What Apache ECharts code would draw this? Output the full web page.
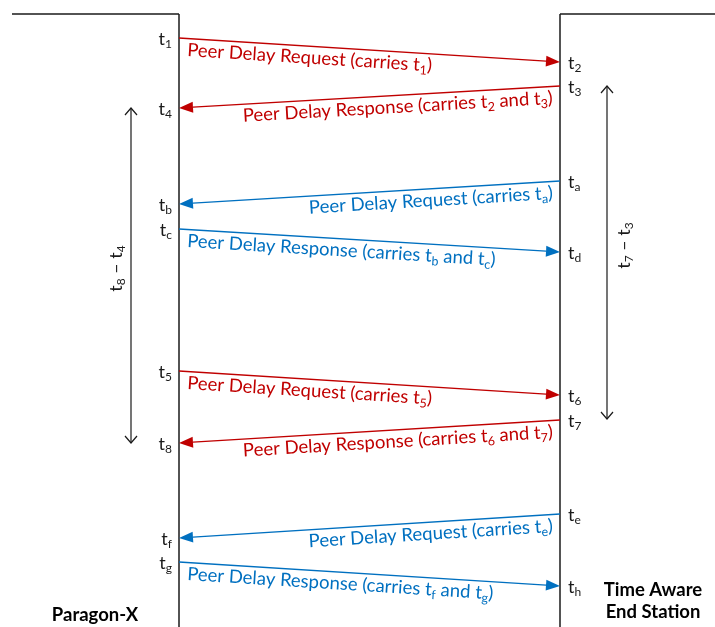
<!DOCTYPE html>
<html><head><meta charset="utf-8">
<script src="https://cdn.jsdelivr.net/npm/echarts@6/dist/echarts.min.js"></script>
<style>html,body{margin:0;padding:0;background:#fff}#c{width:715px;height:627px}</style>
</head><body><div id="c"></div>
<script>
// ---------------- data ----------------
const stations = ['Paragon-X', 'Time Aware\nEnd Station'];
const stationPos = [0, 1];
const lifelineStart = 14;
const timeMax = 627;

const msgFrom = [0, 1, 1, 0, 0, 1, 1, 0];
const msgTo   = [1, 0, 0, 1, 1, 0, 0, 1];
const msgSendTime = [38, 86, 181, 229, 371, 420, 514, 562];
const msgRecvTime = [62, 108, 204, 252, 395, 443, 538, 586];
const msgSendStamp = ['1', '3', 'a', 'c', '5', '7', 'e', 'g'];
const msgRecvStamp = ['2', '4', 'b', 'd', '6', '8', 'f', 'h'];
const msgText = [
  'Peer Delay Request (carries t_1)',
  'Peer Delay Response (carries t_2 and t_3)',
  'Peer Delay Request (carries t_a)',
  'Peer Delay Response (carries t_b and t_c)',
  'Peer Delay Request (carries t_5)',
  'Peer Delay Response (carries t_6 and t_7)',
  'Peer Delay Request (carries t_e)',
  'Peer Delay Response (carries t_f and t_g)'
];
const msgExchange = ['initiator', 'initiator', 'responder', 'responder', 'initiator', 'initiator', 'responder', 'responder'];

const spanStation = [0, 1];
const spanStart = [108, 86];
const spanEnd = [443, 419];
const spanText = ['t_8 – t_4', 't_7 – t_3'];

// ---------------- styles ----------------
const FONT = 'Lato';
const RED = '#C00000', BLUE = '#0070C0', INK = '#1a1a1a';
const exchangeColor = { initiator: RED, responder: BLUE };
function sub(s) { return s.replace(/_(\w)/g, '{s|$1}'); }

const lifeData = stationPos.map(p => [p, lifelineStart, timeMax]);
const msgData = msgFrom.map((f, i) => [stationPos[f], msgSendTime[i], stationPos[msgTo[i]], msgRecvTime[i]]);
const spanData = spanStation.map((st, i) => [stationPos[st], spanStart[i], spanEnd[i]]);

function renderLifeline(params, api) {
  const i = params.dataIndex;
  const top = api.coord([api.value(0), api.value(1)]);
  const bot = api.coord([api.value(0), api.value(2)]);
  const left = i === 0;
  const edge = left ? 12 : api.getWidth();
  const nameX = left ? top[0] - 84 : top[0] + 93;
  const nameY = left ? 615 : 601;
  return { type: 'group', children: [
    { type: 'line', shape: { x1: top[0], y1: top[1], x2: bot[0], y2: bot[1] }, style: { stroke: INK, lineWidth: 1.5 } },
    { type: 'line', shape: { x1: edge, y1: top[1], x2: top[0], y2: top[1] }, style: { stroke: INK, lineWidth: 1.5 } },
    { type: 'text', x: nameX, y: nameY, style: { text: stations[i], fontFamily: FONT, fontWeight: 'bold', fontSize: 18.5, fill: '#000', align: 'center', verticalAlign: 'middle', lineHeight: 22 } }
  ]};
}

function stamp(p, label, station) {
  const onLeft = station === 0;
  return { type: 'text', x: p[0] + (onLeft ? -7 : 8), y: p[1] + 1,
    style: { text: 't{s|' + label + '}', align: onLeft ? 'right' : 'left', verticalAlign: 'middle',
      fill: INK, fontFamily: FONT, fontSize: 18, lineHeight: 22,
      rich: { s: { fontFamily: FONT, fontSize: 12, lineHeight: 12, verticalAlign: 'bottom', fill: INK } } } };
}

function renderMessage(params, api) {
  const i = params.dataIndex;
  const s = api.coord([api.value(0), api.value(1)]);
  const e = api.coord([api.value(2), api.value(3)]);
  const color = exchangeColor[msgExchange[i]];
  const dx = e[0] - s[0], dy = e[1] - s[1], len = Math.hypot(dx, dy);
  const ux = dx / len, uy = dy / len;
  const HL = 14, HW = 5.5;
  const bx = e[0] - ux * HL, by = e[1] - uy * HL;
  const rightward = dx > 0;
  const rx = rightward ? ux : -ux, ry = rightward ? uy : -uy;
  const rot = -Math.atan2(ry, rx);
  return { type: 'group', children: [
    { type: 'line', shape: { x1: s[0], y1: s[1], x2: bx, y2: by }, style: { stroke: color, lineWidth: 1.3 } },
    { type: 'polygon', shape: { points: [[e[0], e[1]], [bx - uy * HW, by + ux * HW], [bx + uy * HW, by - ux * HW]] }, style: { fill: color } },
    { type: 'text', x: s[0], y: s[1], rotation: rot,
      style: { text: sub(msgText[i]), x: rightward ? 9 : -8, y: 11.5, align: rightward ? 'left' : 'right', verticalAlign: 'middle',
        fill: color, fontFamily: FONT, fontSize: 18.5, lineHeight: 24,
        rich: { s: { fontFamily: FONT, fontSize: 12.5, lineHeight: 12.5, verticalAlign: 'bottom', fill: color } } } },
    stamp(s, msgSendStamp[i], msgFrom[i]),
    stamp(e, msgRecvStamp[i], msgTo[i])
  ]};
}

function renderSpan(params, api) {
  const i = params.dataIndex;
  const a = api.coord([api.value(0), api.value(1)]);
  const b = api.coord([api.value(0), api.value(2)]);
  const left = spanStation[i] === 0;
  const x = a[0] + (left ? -48 : 47);
  const CW = 6, CH = 7;
  return { type: 'group', children: [
    { type: 'line', shape: { x1: x, y1: a[1], x2: x, y2: b[1] }, style: { stroke: INK, lineWidth: 1.2 } },
    { type: 'polyline', shape: { points: [[x - CW, a[1] + CH], [x, a[1]], [x + CW, a[1] + CH]] }, style: { stroke: INK, lineWidth: 1.2, fill: null } },
    { type: 'polyline', shape: { points: [[x - CW, b[1] - CH], [x, b[1]], [x + CW, b[1] - CH]] }, style: { stroke: INK, lineWidth: 1.2, fill: null } },
    { type: 'text', x: x + (left ? -15 : 17), y: (a[1] + b[1]) / 2 - 7, rotation: Math.PI / 2,
      style: { text: sub(spanText[i]), align: 'center', verticalAlign: 'middle', fill: INK, fontFamily: FONT, fontSize: 18, lineHeight: 22,
        rich: { s: { fontFamily: FONT, fontSize: 12, lineHeight: 12, verticalAlign: 'bottom', fill: INK } } } }
  ]};
}

const chart = echarts.init(document.getElementById('c'));
chart.setOption({
  animation: false,
  backgroundColor: '#fff',
  grid: { left: 179, right: 155, top: 0, bottom: 0 },
  xAxis: { type: 'value', min: 0, max: 1, show: false },
  yAxis: { type: 'value', min: 0, max: timeMax, inverse: true, show: false },
  series: [
    { type: 'custom', data: lifeData, renderItem: renderLifeline, silent: true, clip: false },
    { type: 'custom', data: msgData, renderItem: renderMessage, silent: true, clip: false },
    { type: 'custom', data: spanData, renderItem: renderSpan, silent: true, clip: false }
  ]
});
</script>
</body></html>
